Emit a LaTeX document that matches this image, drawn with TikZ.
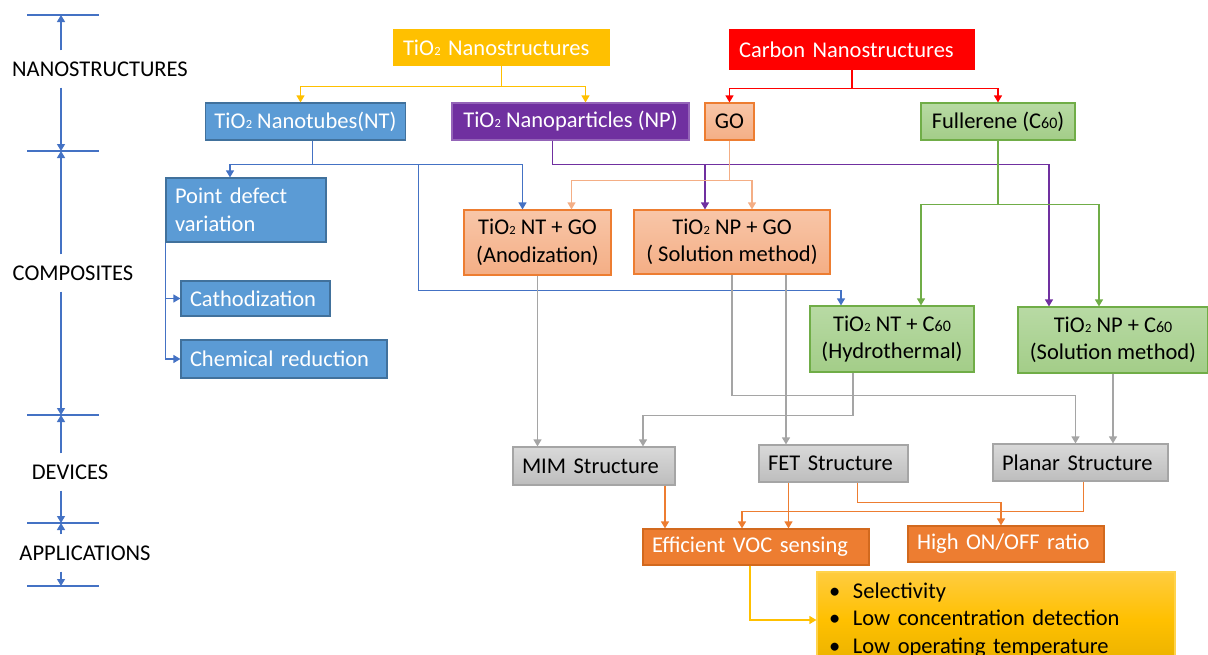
\documentclass[tikz,border=0pt]{standalone}
\usepackage{fontspec}
\setmainfont{Carlito}
\usetikzlibrary{arrows.meta}

\definecolor{cblue}{HTML}{5B9BD5}
\definecolor{cblueline}{HTML}{41719C}
\definecolor{cblink}{HTML}{4472C4}
\definecolor{cpurple}{HTML}{7030A0}
\definecolor{cyellow}{HTML}{FFC000}
\definecolor{cred}{HTML}{FF0000}
\definecolor{cpeachtop}{HTML}{F8C6A8}
\definecolor{cpeach}{HTML}{F4AE85}
\definecolor{corange}{HTML}{ED7D31}
\definecolor{corangeline}{HTML}{D2691E}
\definecolor{cgreentop}{HTML}{B8DAA4}
\definecolor{cgreen}{HTML}{A3CD88}
\definecolor{cgreenline}{HTML}{70AD47}
\definecolor{cgraytop}{HTML}{D9D9D9}
\definecolor{cgray}{HTML}{BDBDBD}
\definecolor{cgrayline}{HTML}{A5A5A5}
\definecolor{cgoldtop}{HTML}{FFCC3F}
\definecolor{cgoldbot}{HTML}{E8B000}

\newcommand{\tio}{TiO\kern0.3pt{\fontsize{12.5}{12.5}\selectfont 2}}
\newcommand{\csx}{C{\fontsize{16}{16}\selectfont 60}}

\begin{document}
\begin{tikzpicture}[x=1pt, y=-1pt,
    every node/.style={font=\fontsize{22.5}{27.5}\selectfont},
    box/.style={draw, line width=1.2pt, inner xsep=9pt, inner ysep=0pt, align=center},
    bluebox/.style={box, fill=cblue, draw=cblueline, text=white},
    purplebox/.style={box, fill=cpurple, draw=cpurple!75!white, text=white},
    yellowbox/.style={box, fill=cyellow, draw=cyellow, text=white},
    redbox/.style={box, fill=cred, draw=cred, text=white},
    gobox/.style={box, top color=cpeachtop, bottom color=cpeach, draw=corange},
    greenbox/.style={box, top color=cgreentop, bottom color=cgreen, draw=cgreenline},
    graybox/.style={box, top color=cgraytop, bottom color=cgray, draw=cgrayline},
    orangebox/.style={box, fill=corange, draw=corangeline, text=white},
    bulletbox/.style={box, top color=cgoldtop, bottom color=cgoldbot, middle color=cyellow, draw=cyellow!70!white},
    link/.style={line width=1.3pt, -{Triangle[width=8pt,length=7pt]}},
    tick line/.style={cblink, line width=1.2pt},
    tick arrow/.style={cblink, line width=1.2pt, -{Triangle[width=8pt,length=7pt]}},
    tier label/.style={inner sep=0pt, minimum height=37pt},
]
    \path[use as bounding box] (0,0) rectangle (1208,654);
    \clip (0,0) rectangle (1208,654);

    % tiers on the left
    \foreach \ty/\tn in {15/s1, 151/s2, 415/s3, 523/s4, 586/s5}{
        \draw[tick line] (27,\ty) -- (99,\ty);
        \coordinate (\tn) at (61,\ty);
    }
    \node[tier label] (lnano) at (100,69) {NANOSTRUCTURES};
    \node[tier label] (lcomp) at (73,273) {COMPOSITES};
    \node[tier label] (ldev) at (70,472) {DEVICES};
    \node[tier label] (lapp) at (85,553) {APPLICATIONS};
    \draw[tick arrow] (lnano.north -| s1) -- (s1);
    \draw[tick arrow] (lnano.south -| s1) -- (s2);
    \draw[tick arrow] (lcomp.north -| s2) -- (s2);
    \draw[tick arrow] (lcomp.south -| s2) -- (s3);
    \draw[tick arrow] (ldev.north -| s3) -- (s3);
    \draw[tick arrow] (ldev.south -| s3) -- (s4);
    \draw[tick arrow] (lapp.north -| s4) -- (s4);
    \draw[tick arrow] (lapp.south -| s4) -- (s5);

    % nanostructures
    \node[yellowbox, text width=197pt, align=left, minimum height=35pt] (tiostr) at (501.5,47.5) {\tio{} Nanostructures};
    \node[redbox, text width=226pt, align=left, minimum height=39pt] (carbon) at (852,49.5) {Carbon Nanostructures};
    \node[bluebox, minimum width=189pt, minimum height=37pt] (nt) at (305.5,121.5) {\tio{} Nanotubes(NT)};
    \node[purplebox, minimum width=237pt, minimum height=37pt] (np) at (570.5,121.5) {\tio{} Nanoparticles (NP)};
    \node[gobox, minimum width=49pt, minimum height=37pt] (go) at (729.5,121.5) {GO};
    \node[greenbox, minimum width=154pt, minimum height=37pt] (ful) at (998,121.5) {Fullerene (\csx)};

    % composites
    \node[bluebox, text width=142pt, align=left, minimum height=64pt] (pdv) at (246,210) {Point defect\\variation};
    \node[bluebox, text width=131pt, align=left, minimum height=35pt] (cath) at (255.5,298.5) {Cathodization};
    \node[bluebox, text width=188pt, align=left, minimum height=38pt] (chem) at (284,359) {Chemical reduction};
    \node[gobox, minimum width=147pt, minimum height=65pt] (ntgo) at (537.5,242.5) {\tio{} NT + GO\\(Anodization)};
    \node[gobox, minimum width=196pt, minimum height=64pt] (npgo) at (732,242) {\tio{} NP + GO\\( Solution method)};
    \node[greenbox, minimum width=164pt, minimum height=66pt] (ntc) at (892,339) {\tio{} NT + \csx\\(Hydrothermal)};
    \node[greenbox, minimum width=190pt, minimum height=66pt] (npc) at (1113,340) {\tio{} NP + \csx\\(Solution method)};

    % devices
    \node[graybox, text width=144pt, align=left, minimum height=38pt] (mim) at (594,466) {MIM Structure};
    \node[graybox, text width=131pt, align=left, minimum height=37pt] (fet) at (833.5,463.5) {FET Structure};
    \node[graybox, text width=157pt, align=left, minimum height=37pt] (planar) at (1080.5,462.5) {Planar Structure};

    % applications
    \node[orangebox, text width=208pt, align=left, minimum height=36pt] (voc) at (756,547) {Efficient VOC sensing};
    \node[orangebox, text width=178pt, align=left, minimum height=36pt] (onoff) at (1006,544) {High ON/OFF ratio};
    \node[bulletbox, inner xsep=12pt, text width=334pt, align=left, minimum height=96pt] (bul) at (996,620)
        {\makebox[24pt][l]{\textbullet}Selectivity\\\makebox[24pt][l]{\textbullet}Low concentration detection\\\makebox[24pt][l]{\textbullet}Low operating temperature};

    % links from the sources
    \draw[link, cyellow] (tiostr.south) -- ++(0,21) coordinate (tb) -| ([xshift=-5pt]nt.north);
    \draw[link, cyellow] (tb) -| ([xshift=15pt]np.north);
    \draw[link, cred] (carbon.south) -- ++(0,19) coordinate (cb) -| (go.north);
    \draw[link, cred] (cb) -| (ful.north);

    \draw[link, cblink] ([xshift=7pt]nt.south) -- ++(0,24) coordinate (nb) -| ([xshift=-16pt]pdv.north);
    \draw[link, cblink] (nb) -| ([xshift=-15pt]ntgo.north);
    \draw[link, cblink] ([xshift=106pt]nb) |- ([xshift=-51pt,yshift=15pt]ntc.north) -- ([xshift=-51pt]ntc.north);
    \draw[link, cblink] (pdv.south west) |- (cath.west);
    \draw[link, cblink] (pdv.south west) |- (chem.west);

    \draw[link, cpurple] ([xshift=-18pt]np.south) -- ++(0,24) coordinate (pb) -| ([xshift=-64pt]npc.north);
    \draw[link, cpurple] (pb) -| ([xshift=-27pt]npgo.north);
    \draw[link, cpeach] (go.south) -- ++(0,40) coordinate (gb) -| ([xshift=34pt]ntgo.north);
    \draw[link, cpeach] (gb) -| ([xshift=20pt]npgo.north);
    \draw[link, cgreenline] (ful.south) -- ++(0,64) coordinate (fb) -| ([xshift=29pt]ntc.north);
    \draw[link, cgreenline] (fb) -| ([xshift=-14pt]npc.north);

    % composites to devices
    \draw[link, cgrayline] (ntgo.south) -- (ntgo.south |- mim.north);
    \draw[link, cgrayline] (npgo.south) -- ++(0,121) -| ([xshift=-5pt]planar.north);
    \draw[link, cgrayline] ([xshift=54pt]npgo.south) -- ([xshift=54pt]npgo.south |- fet.north);
    \draw[link, cgrayline] ([xshift=-39pt]ntc.south) -- ++(0,43) -| ([xshift=49pt]mim.north);
    \draw[link, cgrayline] (npc.south) -- (npc.south |- planar.north);

    % devices to applications
    \draw[link, corange] ([xshift=71pt]mim.south) -- ([xshift=71pt]mim.south |- voc.north);
    \draw[link, corange] ([xshift=-45pt]fet.south) -- ([xshift=-45pt]fet.south |- voc.north);
    \draw[link, corange] ([xshift=24pt]fet.south) -- ++(0,20) -| ([xshift=-5pt]onoff.north);
    \draw[link, corange] ([xshift=3pt]planar.south) -- ++(0,30) -| ([xshift=-14pt]voc.north);
    \draw[link, cyellow] ([xshift=-6pt]voc.south) |- (bul.west);
\end{tikzpicture}
\end{document}
